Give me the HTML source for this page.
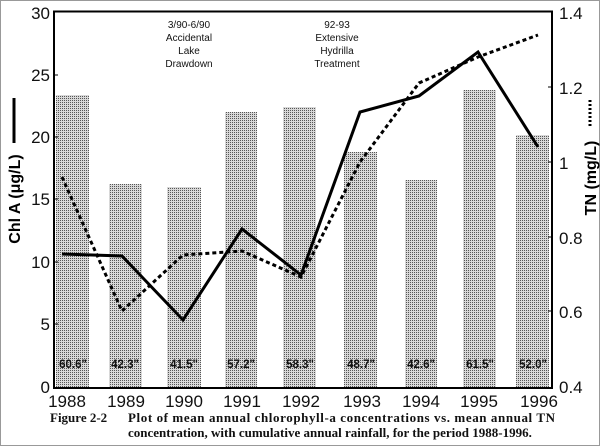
<!DOCTYPE html>
<html><head><meta charset="utf-8"><style>
html,body{margin:0;padding:0;background:#fff;}
svg{display:block;}
</style></head><body>
<svg width="600" height="446" viewBox="0 0 600 446" xmlns="http://www.w3.org/2000/svg">
<defs>
<pattern id="dots" width="2" height="2" patternUnits="userSpaceOnUse">
<rect width="2" height="2" fill="#d8d8d8"/>
<rect width="1" height="1" fill="#555"/>
</pattern>
</defs>
<rect x="0.5" y="0.5" width="599" height="445" fill="#fff" stroke="#999"/>
<g fill="url(#dots)">
<rect x="56" y="95" width="33" height="293"/>
<rect x="109" y="184" width="33" height="204"/>
<rect x="167" y="187" width="34" height="201"/>
<rect x="225" y="112" width="32" height="276"/>
<rect x="283" y="107" width="33" height="281"/>
<rect x="344" y="152" width="33" height="236"/>
<rect x="405" y="180" width="32" height="208"/>
<rect x="463" y="90" width="33" height="298"/>
<rect x="516" y="135" width="33" height="253"/>
</g>
<rect x="54" y="11.5" width="498" height="376.5" fill="none" stroke="#000" stroke-width="2"/>
<g stroke="#000" stroke-width="1">
<line x1="54" y1="75" x2="58" y2="75"/><line x1="54" y1="137" x2="58" y2="137"/>
<line x1="54" y1="199" x2="58" y2="199"/><line x1="54" y1="262" x2="58" y2="262"/>
<line x1="54" y1="324" x2="58" y2="324"/>
<line x1="552" y1="87" x2="548" y2="87"/><line x1="552" y1="162" x2="548" y2="162"/>
<line x1="552" y1="237" x2="548" y2="237"/><line x1="552" y1="311" x2="548" y2="311"/>
</g>
<g font-family="Liberation Sans, sans-serif" font-size="11.5" font-weight="bold" text-anchor="middle" fill="#111">
<text x="73" y="368">60.6"</text><text x="125" y="368">42.3"</text><text x="184" y="368">41.5"</text>
<text x="241" y="368">57.2"</text><text x="300" y="368">58.3"</text><text x="361" y="368">48.7"</text>
<text x="421" y="368">42.6"</text><text x="480" y="368">61.5"</text><text x="533" y="368">52.0"</text>
</g>
<g font-family="Liberation Sans, sans-serif" font-size="10" text-anchor="middle" fill="#111">
<text x="189" y="28">3/90-6/90</text><text x="189" y="41">Accidental</text>
<text x="189" y="54">Lake</text><text x="189" y="67">Drawdown</text>
<text x="337" y="28">92-93</text><text x="337" y="41">Extensive</text>
<text x="337" y="54">Hydrilla</text><text x="337" y="67">Treatment</text>
</g>
<polyline fill="none" stroke="#000" stroke-width="3" points="62,254 122,256 183,320 242,229 301,275 360,112 419,96 478,52 538,147"/>
<polyline fill="none" stroke="#000" stroke-width="3" stroke-dasharray="4,3" points="62,177 122,311 183,255 242,251 301,277 360,162 419,83 478,57 538,35"/>
<g font-family="Liberation Sans, sans-serif" font-size="17" fill="#111">
<g text-anchor="end">
<text x="50" y="19">30</text><text x="50" y="81">25</text><text x="50" y="143">20</text>
<text x="50" y="205">15</text><text x="50" y="268">10</text><text x="50" y="330">5</text><text x="50" y="393">0</text>
</g>
<text x="559" y="19">1.4</text><text x="559" y="94">1.2</text><text x="559" y="169">1</text>
<text x="559" y="244">0.8</text><text x="559" y="318">0.6</text><text x="559" y="393">0.4</text>
<g text-anchor="middle">
<text x="67" y="407">1988</text><text x="126" y="407">1989</text><text x="184" y="407">1990</text>
<text x="242" y="407">1991</text><text x="301" y="407">1992</text><text x="362" y="407">1993</text>
<text x="421" y="407">1994</text><text x="479" y="407">1995</text><text x="539" y="407">1996</text>
</g>
</g>
<text transform="translate(20,199) rotate(-90)" text-anchor="middle" font-family="Liberation Sans, sans-serif" font-size="16" font-weight="bold">Chl A (μg/L)</text>
<line x1="14" y1="98" x2="14" y2="143" stroke="#000" stroke-width="3"/>
<text transform="translate(596,178) rotate(-90)" text-anchor="middle" font-family="Liberation Sans, sans-serif" font-size="16" font-weight="bold">TN (mg/L)</text>
<line x1="590" y1="100" x2="590" y2="126" stroke="#000" stroke-width="3" stroke-dasharray="2,2"/>
<g font-family="Liberation Serif, serif" font-size="13" font-weight="bold" fill="#111">
<text x="50" y="422">Figure 2-2</text>
<text x="128" y="422" textLength="427" lengthAdjust="spacing">Plot of mean annual chlorophyll-a concentrations vs. mean annual TN</text>
<text x="128" y="437">concentration, with cumulative annual rainfall, for the period 1988-1996.</text>
</g>
</svg>
</body></html>
